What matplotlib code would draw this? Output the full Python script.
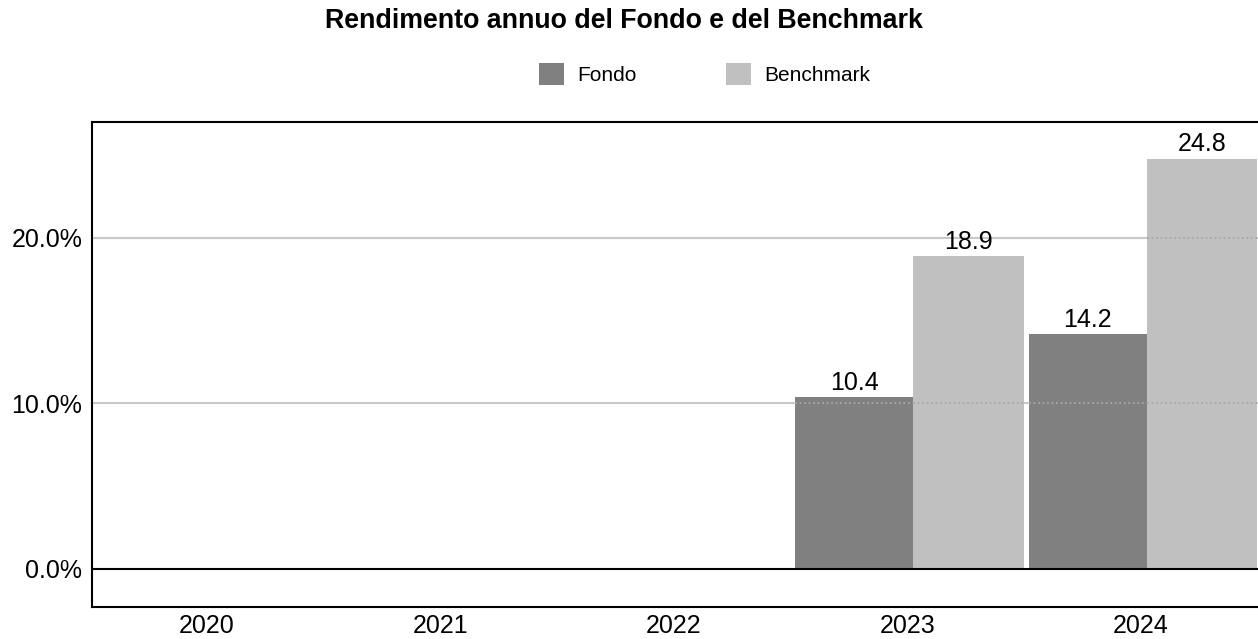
import matplotlib
matplotlib.use("Agg")
import matplotlib.pyplot as plt
from matplotlib.patches import Patch
import numpy as np

plt.rcParams['font.family'] = ['Liberation Sans', 'DejaVu Sans']

years = ["2020", "2021", "2022", "2023", "2024"]
fondo = [np.nan, np.nan, np.nan, 10.4, 14.2]
benchmark = [np.nan, np.nan, np.nan, 18.9, 24.8]
yticks = [0, 10, 20]
ytick_labels = ["0.0%", "10.0%", "20.0%"]
title = "Rendimento annuo del Fondo e del Benchmark"
series_names = ["Fondo", "Benchmark"]

c_fondo = "#808080"
c_bench = "#c0c0c0"

W, H = 1258, 639
fig = plt.figure(figsize=(W / 100, H / 100), dpi=100)
fig.patch.set_facecolor("white")
ax = fig.add_axes([92 / W, 1 - 607 / H, 1 - 92 / W, (607 - 122) / H])

x = np.arange(len(years))
b1 = ax.bar(x - 0.48, fondo, width=0.506, align="edge", color=c_fondo,
            edgecolor="none", zorder=2)
b2 = ax.bar(x + 0.026, benchmark, width=0.474, align="edge", color=c_bench,
            edgecolor="none", zorder=2)

ax.set_xlim(-0.4925, 4.503)
ax.set_ylim(-2.30, 27.01)

# gridlines
for yv in yticks[1:]:
    ax.axhline(yv, color="#c8c8c8", lw=1.5, zorder=1)
    for bars in (b1, b2):
        for p in bars:
            h = p.get_height()
            if np.isfinite(h) and h > yv:
                ax.hlines(yv, p.get_x(), p.get_x() + p.get_width(),
                          colors="#a8a8a8", linestyles=(0, (1, 1.5)),
                          lw=1.3, zorder=3)
ax.axhline(0, color="black", lw=1.5, zorder=4)

# value labels
for bars in (b1, b2):
    for p in bars:
        h = p.get_height()
        if np.isfinite(h):
            ax.annotate(f"{h:.1f}", (p.get_x() + p.get_width() / 2, h),
                        xytext=(0, 1.5), textcoords="offset points",
                        ha="center", va="bottom", fontsize=18, color="black",
                        zorder=5)

ax.set_xticks(x)
ax.set_xticklabels(years, fontsize=18)
ax.set_yticks(yticks)
ax.set_yticklabels(ytick_labels, fontsize=18)
ax.tick_params(axis="both", length=0)
ax.tick_params(axis="y", pad=7)
ax.tick_params(axis="x", pad=5)

for s in ("top", "left", "bottom"):
    ax.spines[s].set_color("black")
    ax.spines[s].set_linewidth(1.5)
ax.spines["right"].set_visible(False)

fig.text(624 / W, 1 - 21 / H, title, ha="center", va="center",
         fontsize=19.3, fontweight="bold")

handles = [Patch(facecolor=c_fondo, edgecolor="none"),
           Patch(facecolor=c_bench, edgecolor="none")]
fig.legend(handles, series_names, loc="center",
           bbox_to_anchor=(704.5 / W, 1 - 74 / H), ncol=2, frameon=False,
           fontsize=15, handlelength=1.2, handleheight=1.2,
           handletextpad=0.62, columnspacing=4.3, borderpad=0)

fig.savefig("out.png", dpi=100, facecolor="white")
